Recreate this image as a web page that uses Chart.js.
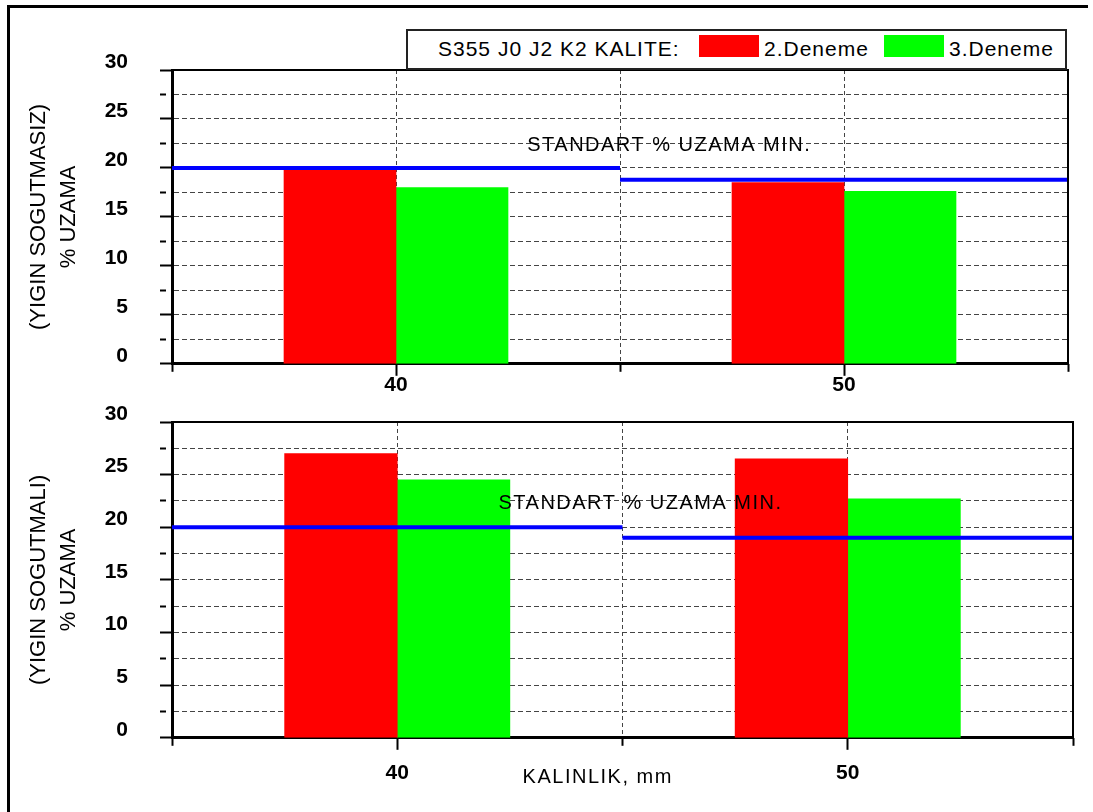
<!DOCTYPE html>
<html>
<head>
<meta charset="utf-8">
<script src="https://cdn.jsdelivr.net/npm/chart.js@4/dist/chart.umd.min.js"></script>
<style>
body { margin: 0; background: #fff; }
#page { position: relative; width: 1093px; height: 812px; overflow: hidden; background: #fff; }
#frame { position: absolute; left: 7px; top: 5px; width: 1078px; height: 900px; border-left: 3px solid #000; border-top: 3px solid #000; }
canvas { position: absolute; left: 0; }
#topChart { top: 0; }
#bottomChart { top: 400px; }
#legend { position: absolute; left: 406px; top: 29px; width: 657px; height: 37px; border: 2px solid #222; background: #fff; z-index: 2;
  font-family: "Liberation Sans", Arial, sans-serif; font-size: 21px; color: #000; letter-spacing: 1px; }
#legend span { position: absolute; top: 6px; white-space: nowrap; }
#legend .sw { top: 4px; width: 60px; height: 22px; }
</style>
</head>
<body>
<div id="page">
  <div id="frame"></div>
  <canvas id="topChart" width="1093" height="400"></canvas>
  <canvas id="bottomChart" width="1093" height="412"></canvas>
  <div id="legend"></div>
</div>
<script>
// thickness categories (mm)
const thickness = ['40', '50'];
const seriesNames = ['2.Deneme', '3.Deneme'];
const seriesColors = ['#FF0000', '#00FF00'];

// upper chart: without accelerated cooling
const topDeneme2 = [19.8, 18.5];
const topDeneme3 = [18.0, 17.6];
const topStandard = [20, 18.8];

// lower chart: with accelerated cooling
const bottomDeneme2 = [27.0, 26.5];
const bottomDeneme3 = [24.5, 22.7];
const bottomStandard = [20, 19];

const yMin = 0, yMax = 30, yStep = 2.5;
const topTitle = ['(YIGIN SOGUTMASIZ)', '% UZAMA'];
const bottomTitle = ['(YIGIN SOGUTMALI)', '% UZAMA'];
const xTitle = 'KALINLIK, mm';
const stdNote = 'STANDART % UZAMA MIN.';
const legendTitle = 'S355 J0 J2 K2 KALITE:';

const FONT = '"Liberation Sans", Arial, sans-serif';

// legend (html)
const legend = document.getElementById('legend');
const legendBits = [
  '<span style="left:30px">' + legendTitle + '</span>',
  '<span class="sw" style="left:291px;background:' + seriesColors[0] + '"></span>',
  '<span style="left:356px">' + seriesNames[0] + '</span>',
  '<span class="sw" style="left:476px;background:' + seriesColors[1] + '"></span>',
  '<span style="left:541px">' + seriesNames[1] + '</span>'
];
legend.innerHTML = legendBits.join('');

// frame + texts
const notesPlugin = {
  id: 'notes',
  afterDraw(chart, args, opts) {
    const { ctx, chartArea: a, scales } = chart;
    ctx.save();
    ctx.strokeStyle = '#000';
    ctx.lineWidth = 2;
    ctx.beginPath();
    ctx.moveTo(a.left, a.top);
    ctx.lineTo(a.right, a.top);
    ctx.lineTo(a.right, a.bottom);
    ctx.stroke();

    ctx.fillStyle = '#000';
    ctx.font = '20px ' + FONT;
    ctx.letterSpacing = '1.5px';
    ctx.textAlign = 'center';
    ctx.textBaseline = 'middle';
    if (opts.note) {
      ctx.fillText(stdNote, scales.xl.getPixelForValue(opts.note.x), scales.y.getPixelForValue(opts.note.y));
    }
    if (opts.xTitle) {
      ctx.fillText(xTitle, scales.xl.getPixelForValue(opts.xTitle.x), a.bottom + opts.xTitle.dy);
    }
    ctx.restore();
  }
};

// one blue segment per thickness, spanning its whole category
function standardLines(std) {
  return std.map((v, i) => ({
    type: 'line',
    xAxisID: 'xl',
    yAxisID: 'y',
    data: [{ x: i, y: v }, { x: i + 1, y: v }],
    borderColor: '#0000FF',
    borderWidth: 4,
    pointRadius: 0,
    fill: false,
    order: 0
  }));
}

function makeChart(id, red, green, std, yTitle, cfg) {
  const ctx = document.getElementById(id).getContext('2d');
  return new Chart(ctx, {
    type: 'bar',
    data: {
      labels: thickness,
      // the 'xl' axis takes a slot in the bar group, so the lines go first
      datasets: [
        ...standardLines(std),
        { label: seriesNames[0], data: red, xAxisID: 'x', yAxisID: 'y', backgroundColor: seriesColors[0], borderWidth: 0, order: 1 },
        { label: seriesNames[1], data: green, xAxisID: 'x', yAxisID: 'y', backgroundColor: seriesColors[1], borderWidth: 0, order: 1 }
      ]
    },
    options: {
      responsive: false,
      animation: false,
      layout: { padding: cfg.padding },
      datasets: { bar: { barPercentage: 1, categoryPercentage: 1 } },
      plugins: {
        legend: { display: false },
        tooltip: { enabled: false },
        notes: { note: cfg.note, xTitle: cfg.xTitle }
      },
      scales: {
        x: {
          type: 'category',
          position: 'bottom',
          weight: 1,
          offset: true,
          grid: { offset: false, color: '#444', tickColor: '#000', tickLength: 12, tickWidth: 2 },
          border: { color: '#000', width: 3, dash: [4, 3] },
          ticks: { color: '#000', padding: cfg.xTickPad, font: { family: FONT, size: 21, weight: 'bold' } }
        },
        xl: {
          type: 'linear',
          position: 'bottom',
          weight: 0,
          offset: false,
          min: 0,
          max: 2,
          ticks: { display: false, stepSize: 1 },
          grid: { offset: false, color: '#444', tickColor: '#000', tickLength: 8, tickWidth: 2 },
          border: { display: false, dash: [4, 3] },
          afterFit: s => { s.height = 0; }
        },
        y: {
          min: yMin,
          max: yMax,
          ticks: {
            stepSize: yStep,
            autoSkip: false,
            color: '#000',
            padding: 32,
            labelOffset: -8,
            font: { family: FONT, size: 21, weight: 'bold' },
            callback: v => (v % 5 === 0 ? v : '')
          },
          grid: {
            color: '#444',
            tickColor: '#000',
            tickLength: 12,
            tickWidth: 2,
            tickBorderDash: c => (c.tick && c.tick.value % 5 !== 0 ? [6, 20] : [])
          },
          border: { color: '#000', width: 3, dash: [5, 3] },
          title: {
            display: true,
            text: yTitle,
            color: '#000',
            font: { family: FONT, size: 22, lineHeight: 1.35 },
            padding: { top: 14, bottom: 0 }
          },
          afterFit: s => { s.width = 162; s.paddingTop = 0; s.paddingBottom = 0; }
        }
      }
    },
    plugins: [notesPlugin]
  });
}

makeChart('topChart', topDeneme2, topDeneme3, topStandard, topTitle, {
  padding: { left: 10, right: 25, top: 70, bottom: 5 },
  xTickPad: -3,
  note: { x: 1.11, y: 22.3 }
});

makeChart('bottomChart', bottomDeneme2, bottomDeneme3, bottomStandard, bottomTitle, {
  padding: { left: 10, right: 20, top: 22, bottom: 15 },
  xTickPad: 11,
  note: { x: 1.04, y: 22.3 },
  xTitle: { x: 0.945, dy: 40 }
});
</script>
</body>
</html>
